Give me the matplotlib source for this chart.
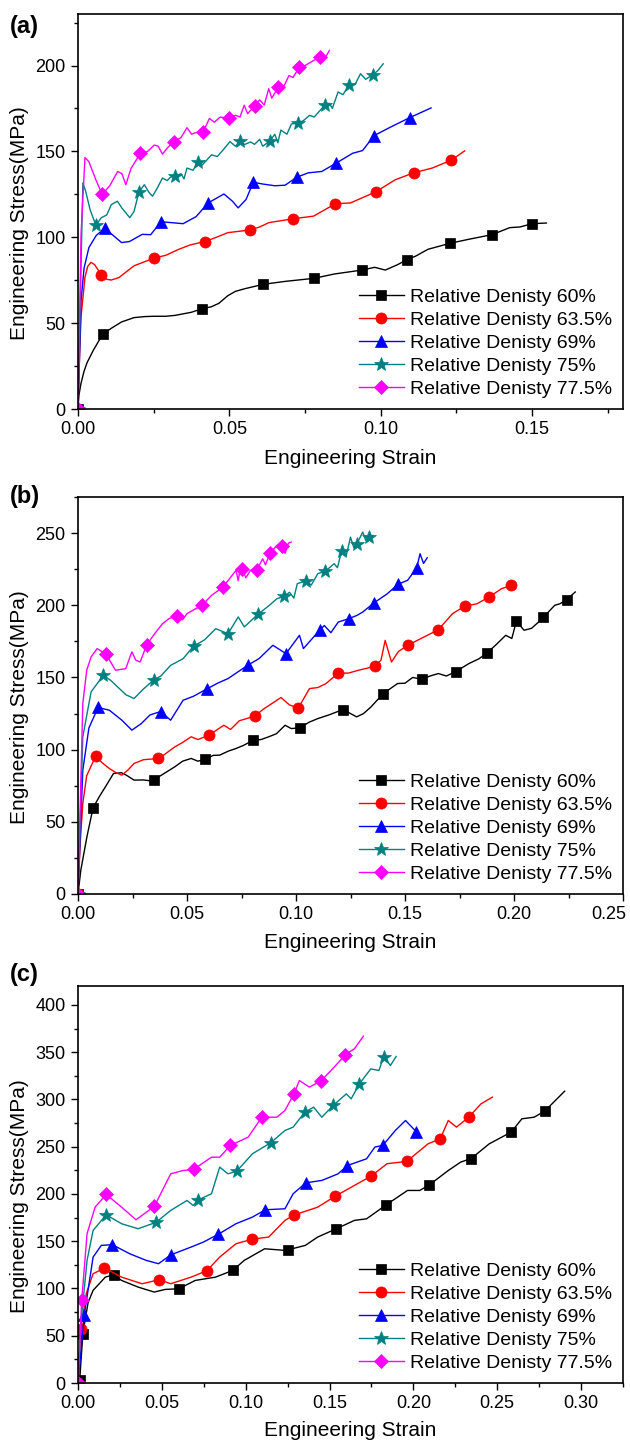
import matplotlib
matplotlib.use("Agg")
import matplotlib.pyplot as plt
from matplotlib.lines import Line2D
from matplotlib.ticker import MultipleLocator, FormatStrFormatter
from matplotlib.transforms import ScaledTranslation

plt.rcParams['font.family'] = ['Liberation Sans', 'DejaVu Sans']

labels = ["Relative Denisty 60%", "Relative Denisty 63.5%", "Relative Denisty 69%",
          "Relative Denisty 75%", "Relative Denisty 77.5%"]
colors = ["#000000", "#FF0000", "#0000FF", "#008080", "#FF00FF"]
markers = ["s", "o", "^", "*", "D"]
msizes = [7, 8, 8, 10, 7]

# ---------------- panel (a) ----------------
a60_line = [(0, 0), (0.0003, 8), (0.001, 15), (0.002, 22), (0.003, 27), (0.005, 34), (0.0081, 43.4), (0.011, 47),
            (0.0144, 50.7), (0.0185, 53.2), (0.022, 53.8), (0.025, 54), (0.029, 54), (0.032, 54.5), (0.0374, 56.3),
            (0.041, 58.4), (0.044, 59.5), (0.0465, 61.5), (0.0495, 66), (0.052, 68.5), (0.055, 70), (0.0612, 72.6),
            (0.0684, 74.3), (0.078, 76.1), (0.0846, 78.6), (0.0938, 80.9), (0.098, 82.5), (0.1015, 80.9),
            (0.1055, 84), (0.1086, 86.9), (0.1115, 89), (0.1156, 93), (0.1229, 96.5), (0.129, 98.8),
            (0.1367, 101.5), (0.1426, 105.6), (0.146, 106), (0.15, 107.9), (0.1547, 108.3)]
a60_marks = [(0, 0), (0.0081, 43.4), (0.041, 58.4), (0.0612, 72.6), (0.078, 76.1), (0.0938, 80.9), (0.1086, 86.9),
             (0.1229, 96.5), (0.1367, 101.5), (0.15, 107.9)]
a635_line = [(0, 0), (0.0005, 30), (0.001, 53.6), (0.0023, 76.7), (0.0032, 83), (0.0043, 85.4), (0.0055, 84),
             (0.0077, 78.2), (0.0095, 75.5), (0.011, 75.1), (0.0135, 76.5), (0.0185, 83.4), (0.0252, 87.9),
             (0.029, 89.5), (0.0333, 93), (0.037, 95.5), (0.0418, 97.5), (0.045, 99.5), (0.0495, 102.7),
             (0.0567, 104.2), (0.06, 106), (0.063, 108.5), (0.0711, 110.8), (0.0778, 112.3), (0.085, 119.5),
             (0.09, 120), (0.0983, 126.4), (0.1048, 133.5), (0.111, 137.6), (0.117, 140.3), (0.1233, 144.9),
             (0.1277, 150.3)]
a635_marks = [(0, 0), (0.0077, 78.2), (0.0252, 87.9), (0.0418, 97.5), (0.0567, 104.2), (0.0711, 110.8), (0.085, 119.5),
              (0.0983, 126.4), (0.111, 137.6), (0.1233, 144.9)]
a69_line = [(0, 0), (0.0005, 30), (0.001, 63), (0.002, 82), (0.0036, 94), (0.006, 101), (0.0088, 105.2), (0.011, 102),
            (0.0144, 96.9), (0.017, 97.5), (0.0212, 101.7), (0.024, 101.5), (0.0274, 109), (0.031, 108.5),
            (0.0347, 107.9), (0.039, 112), (0.043, 120), (0.0482, 125.2), (0.051, 121), (0.0529, 117.1),
            (0.0555, 122), (0.0579, 132), (0.061, 131), (0.065, 130), (0.0684, 130.3), (0.0722, 134.9),
            (0.076, 137.5), (0.0805, 138.3), (0.0853, 143.2), (0.0907, 148.9), (0.094, 150.5), (0.0978, 159.2),
            (0.1035, 164.4), (0.1095, 169.6), (0.1166, 175.3)]
a69_marks = [(0, 0), (0.0088, 105.2), (0.0274, 109), (0.043, 120), (0.0579, 132), (0.0722, 134.9), (0.0853, 143.2),
             (0.0978, 159.2), (0.1095, 169.6)]
a75_line = [(0, 0), (0.0005, 40), (0.001, 82.5), (0.0016, 131.6), (0.0025, 127), (0.004, 116), (0.0059, 107),
            (0.0077, 111.4), (0.0095, 113), (0.011, 119), (0.013, 121), (0.0145, 117), (0.0171, 111.4),
            (0.0185, 115), (0.0201, 126.2), (0.0219, 130.6), (0.0235, 126), (0.0246, 123.9), (0.026, 128),
            (0.0279, 134.5), (0.0295, 133), (0.0305, 135), (0.0322, 135.5), (0.034, 137), (0.035, 134),
            (0.036, 140.3), (0.038, 139), (0.0397, 144.1), (0.041, 142), (0.0441, 148), (0.046, 147), (0.048, 151),
            (0.0502, 155.7), (0.052, 153), (0.0535, 156.1), (0.055, 154), (0.057, 155.5), (0.0583, 154.1),
            (0.06, 157), (0.061, 153), (0.0634, 156.1), (0.065, 160), (0.066, 155), (0.067, 162.4), (0.069, 160),
            (0.0705, 166), (0.0728, 166.5), (0.0745, 168), (0.0765, 171), (0.078, 170), (0.0815, 176.9),
            (0.083, 178), (0.084, 175), (0.0859, 184.6), (0.0875, 183), (0.0896, 188.8), (0.0915, 189),
            (0.0933, 195.2), (0.095, 192), (0.0974, 194.6), (0.099, 197), (0.1008, 201)]
a75_marks = [(0, 0), (0.0059, 107), (0.0201, 126.2), (0.0322, 135.5), (0.0397, 144.1), (0.0535, 156.1),
             (0.0634, 156.1), (0.0728, 166.5), (0.0815, 176.9), (0.0896, 188.8), (0.0974, 194.6)]
a775_line = [(0, 0), (0.0005, 50), (0.001, 101.7), (0.0023, 146.4), (0.0036, 144), (0.006, 133), (0.008, 125),
             (0.0105, 130), (0.0131, 138.3), (0.0145, 137), (0.0158, 130.6), (0.0175, 140), (0.0206, 148.9),
             (0.023, 150), (0.0252, 153.7), (0.0265, 153), (0.0279, 148.4), (0.0295, 152), (0.0316, 155.7),
             (0.034, 158), (0.036, 163.8), (0.0375, 160), (0.039, 161), (0.0414, 161.5), (0.0434, 169.2),
             (0.045, 167), (0.047, 170), (0.0499, 169.2), (0.052, 171), (0.0535, 170), (0.0549, 176.9),
             (0.056, 172), (0.0583, 176.3), (0.06, 180), (0.0615, 177), (0.063, 186.5), (0.064, 181),
             (0.0662, 187.5), (0.068, 188), (0.0697, 194.2), (0.071, 193), (0.0731, 199), (0.075, 200),
             (0.0778, 202.9), (0.08, 205.2), (0.0815, 204), (0.083, 208.7)]
a775_marks = [(0, 0), (0.008, 125), (0.0206, 148.9), (0.0316, 155.7), (0.0414, 161.5), (0.0499, 169.2),
              (0.0583, 176.3), (0.0662, 187.5), (0.0731, 199), (0.08, 205.2)]

# ---------------- panel (b) ----------------
b60_line = [(0, 0), (0.0013, 16.6), (0.0041, 39.7), (0.0069, 59.7), (0.01, 68), (0.0126, 74.3), (0.0163, 83.5),
            (0.02, 84), (0.0225, 82), (0.0257, 78.9), (0.03, 79), (0.0332, 78.4), (0.035, 79.3), (0.039, 83),
            (0.0444, 88.1), (0.048, 92), (0.0519, 93.9), (0.055, 92), (0.0581, 93.2), (0.062, 96), (0.065, 96.2),
            (0.069, 99), (0.0725, 100.8), (0.076, 103), (0.0804, 106.5), (0.084, 107), (0.0875, 108.9),
            (0.091, 111), (0.095, 116.9), (0.0978, 114.6), (0.1019, 115.1), (0.106, 119), (0.11, 121.5),
            (0.115, 124), (0.1216, 127.8), (0.125, 125), (0.1278, 122.7), (0.131, 125), (0.1344, 129.6),
            (0.14, 138.8), (0.1466, 145.8), (0.15, 146), (0.1535, 150), (0.1578, 148.8), (0.1615, 151),
            (0.1653, 152.7), (0.169, 151), (0.1733, 154.1), (0.1793, 159.6), (0.184, 163), (0.1878, 167.2),
            (0.192, 173), (0.1962, 179.2), (0.199, 177), (0.2011, 189.1), (0.2046, 182.7), (0.208, 184),
            (0.211, 188), (0.2135, 191.7), (0.2187, 200), (0.221, 201), (0.2241, 203.9), (0.2281, 209.2)]
b60_marks = [(0, 0), (0.0069, 59.7), (0.035, 79.3), (0.0581, 93.2), (0.0804, 106.5), (0.1019, 115.1), (0.1216, 127.8),
             (0.14, 138.8), (0.1578, 148.8), (0.1733, 154.1), (0.1878, 167.2), (0.2011, 189.1), (0.2135, 191.7),
             (0.2241, 203.9)]
b635_line = [(0, 0), (0.001, 35), (0.0022, 62.7), (0.004, 82), (0.0081, 95.5), (0.011, 91), (0.0144, 86.9),
             (0.0175, 84), (0.0201, 82.3), (0.023, 86), (0.0257, 90.4), (0.03, 93), (0.0369, 93.9), (0.04, 97),
             (0.0444, 101.9), (0.048, 105), (0.0519, 108.9), (0.055, 107), (0.06, 110), (0.0669, 116.9),
             (0.07, 114), (0.074, 120), (0.0811, 123.2), (0.085, 128), (0.0931, 136.1), (0.097, 131),
             (0.101, 128.7), (0.1062, 142.3), (0.11, 143), (0.1138, 145.8), (0.1194, 153.1), (0.124, 153),
             (0.1287, 155), (0.1362, 157.7), (0.139, 162), (0.1409, 175.7), (0.1438, 160.7), (0.147, 168),
             (0.1512, 172.3), (0.1587, 178), (0.1653, 183.1), (0.1718, 194.2), (0.1775, 199.5), (0.183, 201),
             (0.1885, 205.7), (0.1943, 211.5), (0.1987, 213.8), (0.2005, 214)]
b635_marks = [(0, 0), (0.0081, 95.5), (0.0369, 93.9), (0.06, 110), (0.0811, 123.2), (0.101, 128.7), (0.1194, 153.1),
              (0.1362, 157.7), (0.1512, 172.3), (0.1653, 183.1), (0.1775, 199.5), (0.1885, 205.7), (0.1987, 213.8)]
b69_line = [(0, 0), (0.001, 40), (0.0022, 85.8), (0.005, 115), (0.0092, 129.2), (0.0144, 127.3), (0.0201, 120.4),
            (0.0247, 113.5), (0.029, 118), (0.033, 124), (0.0379, 126.4), (0.0425, 120.4), (0.0482, 134.2),
            (0.053, 137), (0.0594, 142.3), (0.064, 146), (0.0688, 149.2), (0.0778, 158.4), (0.083, 163),
            (0.0894, 172.3), (0.0954, 166.5), (0.1016, 179.2), (0.1034, 170), (0.1108, 182.7), (0.113, 186),
            (0.116, 181), (0.1194, 188.4), (0.1242, 190.7), (0.128, 193), (0.1306, 195.3), (0.1359, 201.8),
            (0.1419, 208), (0.1467, 214.5), (0.1512, 217.3), (0.1554, 226), (0.1569, 235.7), (0.1585, 229),
            (0.1602, 232.9)]
b69_marks = [(0, 0), (0.0092, 129.2), (0.0379, 126.4), (0.0594, 142.3), (0.0778, 158.4), (0.0954, 166.5),
             (0.1108, 182.7), (0.1242, 190.7), (0.1359, 201.8), (0.1467, 214.5), (0.1554, 226)]
b75_line = [(0, 0), (0.001, 50), (0.0022, 108.9), (0.006, 140), (0.0116, 151.5), (0.015, 148), (0.0182, 143.4),
            (0.022, 138), (0.0257, 135.4), (0.03, 142), (0.0349, 148.5), (0.038, 151), (0.0425, 158.4),
            (0.0482, 163), (0.053, 171.6), (0.058, 176), (0.0632, 183.8), (0.0688, 180.3), (0.0735, 191.9),
            (0.0763, 185), (0.0825, 193.7), (0.087, 199), (0.0913, 204.6), (0.0946, 206.2), (0.097, 209),
            (0.099, 205), (0.1006, 215), (0.1044, 216.8), (0.107, 214), (0.11, 221.9), (0.1134, 223.5),
            (0.1175, 228.8), (0.119, 226), (0.1209, 237.3), (0.123, 234), (0.125, 247.2), (0.1265, 240),
            (0.1278, 242.2), (0.1306, 250.7), (0.132, 245), (0.1336, 247.2), (0.1353, 248.4)]
b75_marks = [(0, 0), (0.0116, 151.5), (0.0349, 148.5), (0.053, 171.6), (0.0688, 180.3), (0.0825, 193.7),
             (0.0946, 206.2), (0.1044, 216.8), (0.1134, 223.5), (0.1209, 237.3), (0.1278, 242.2), (0.1336, 247.2)]
b775_line = [(0, 0), (0.001, 60), (0.0022, 131.9), (0.004, 155), (0.006, 164.2), (0.0088, 170), (0.0129, 166),
             (0.0172, 155), (0.0219, 156.1), (0.0247, 167.7), (0.0265, 162), (0.0285, 160.7), (0.0315, 172.5),
             (0.035, 180), (0.0388, 187.3), (0.042, 191), (0.0454, 192.3), (0.048, 190), (0.05, 194.2),
             (0.057, 200.2), (0.0613, 206.9), (0.0665, 212.6), (0.0725, 224.2), (0.0735, 217), (0.0745, 226),
             (0.0753, 225.3), (0.077, 219), (0.0791, 224.2), (0.0821, 224.6), (0.0847, 232.2), (0.086, 228),
             (0.0881, 236.2), (0.0913, 241.5), (0.0937, 240.8), (0.095, 236), (0.0965, 243), (0.0978, 243.8)]
b775_marks = [(0, 0), (0.0129, 166), (0.0315, 172.5), (0.0454, 192.3), (0.057, 200.2), (0.0665, 212.6),
              (0.0753, 225.3), (0.0821, 224.6), (0.0881, 236.2), (0.0937, 240.8)]

# ---------------- panel (c) ----------------
c60_line = [(0, 0), (0.001, 2.8), (0.0029, 52.2), (0.006, 85), (0.009, 98), (0.0163, 112), (0.0212, 114.5),
            (0.026, 108.5), (0.0358, 101.5), (0.0455, 96.2), (0.052, 99), (0.0601, 99.7), (0.0699, 108.5),
            (0.082, 112), (0.0923, 119.1), (0.0991, 129.7), (0.1113, 142), (0.1234, 140.3), (0.1254, 141),
            (0.1356, 145.6), (0.1429, 154.4), (0.1541, 163.2), (0.1648, 172), (0.1721, 173.7), (0.1838, 188.5),
            (0.1965, 203.7), (0.2038, 203.7), (0.2096, 209.7), (0.2208, 224.8), (0.2282, 233.7), (0.2345, 237.5),
            (0.2452, 253), (0.2583, 265.4), (0.2647, 279.5), (0.272, 281.2), (0.2783, 287.6), (0.2902, 308.7)]
c60_marks = [(0.001, 2.8), (0.0029, 52.2), (0.0212, 114.5), (0.0601, 99.7), (0.0923, 119.1), (0.1254, 141),
             (0.1541, 163.2), (0.1838, 188.5), (0.2096, 209.7), (0.2345, 237.5), (0.2583, 265.4), (0.2783, 287.6)]
c635_line = [(0, 0), (0.0017, 57.4), (0.005, 95), (0.009, 115.6), (0.0158, 121.6), (0.026, 112), (0.0382, 105),
             (0.0485, 109.3), (0.0553, 105), (0.0674, 112), (0.0769, 118.8), (0.0845, 133.2), (0.0942, 147.3),
             (0.104, 152.2), (0.1137, 154.4), (0.1234, 172), (0.1286, 177.6), (0.1429, 186), (0.1532, 197.4),
             (0.1648, 209), (0.1748, 218.9), (0.1843, 232), (0.196, 234.4), (0.2087, 253), (0.216, 258.3),
             (0.2208, 277.7), (0.2257, 270.7), (0.233, 281.2), (0.2403, 295.3), (0.2471, 302.4)]
c635_marks = [(0, 0), (0.0017, 57.4), (0.0158, 121.6), (0.0485, 109.3), (0.0769, 118.8), (0.104, 152.2),
              (0.1286, 177.6), (0.1532, 197.4), (0.1748, 218.9), (0.196, 234.4), (0.216, 258.3), (0.233, 281.2)]
c69_line = [(0, 0), (0.0037, 71.5), (0.009, 133.2), (0.0139, 145.6), (0.0205, 146.3), (0.0309, 136.7),
            (0.0407, 129.7), (0.048, 126.2), (0.0555, 135.7), (0.0674, 143.8), (0.0748, 149.1), (0.0835, 157.2),
            (0.0942, 168.5), (0.104, 175.5), (0.1118, 183.3), (0.1234, 184.3), (0.1283, 200.2), (0.1359, 211.8),
            (0.1454, 214.3), (0.1551, 221.3), (0.1607, 230.1), (0.1721, 237.2), (0.177, 249.5), (0.1819, 251.6),
            (0.1892, 267.1), (0.1953, 277.7), (0.2018, 265.7)]
c69_marks = [(0, 0), (0.0037, 71.5), (0.0205, 146.3), (0.0555, 135.7), (0.0835, 157.2), (0.1118, 183.3),
             (0.1359, 211.8), (0.1607, 230.1), (0.1819, 251.6), (0.2018, 265.7)]
c75_line = [(0, 0), (0.0017, 62.7), (0.0054, 129.7), (0.009, 161.4), (0.0168, 178), (0.026, 168.5),
            (0.0358, 163.2), (0.0465, 169.9), (0.0553, 182.6), (0.065, 193.1), (0.0687, 187.8), (0.0718, 193.8),
            (0.0796, 200.2), (0.0845, 228.4), (0.0894, 221.3), (0.0947, 224.1), (0.104, 242.5), (0.1149, 254.1),
            (0.1234, 267.1), (0.1283, 270.7), (0.1351, 286.2), (0.1405, 291.8), (0.1454, 281.2), (0.1522, 293.6),
            (0.16, 305.9), (0.1629, 300.6), (0.1678, 316.5), (0.1746, 332.3), (0.1794, 330.6), (0.1824, 345.4),
            (0.1863, 335.9), (0.1897, 345.4)]
c75_marks = [(0, 0), (0.0168, 178), (0.0465, 169.9), (0.0718, 193.8), (0.0947, 224.1), (0.1149, 254.1),
             (0.1351, 286.2), (0.1522, 293.6), (0.1678, 316.5), (0.1824, 345.4)]
c775_line = [(0, 0), (0.0022, 87.4), (0.0054, 157.9), (0.0102, 186), (0.0168, 199.5), (0.026, 186),
             (0.0346, 172.7), (0.0455, 186.8), (0.0553, 221.3), (0.0626, 224.8), (0.0689, 225.9), (0.0796, 238.9),
             (0.0845, 238.9), (0.0908, 251.3), (0.1015, 260.1), (0.1096, 281.2), (0.1186, 281.2), (0.1234, 288.3),
             (0.1288, 305.9), (0.132, 320), (0.138, 313), (0.1449, 319.6), (0.1527, 334), (0.1595, 347.5),
             (0.1648, 353.5), (0.1702, 366.9)]
c775_marks = [(0, 0), (0.0022, 87.4), (0.0168, 199.5), (0.0455, 186.8), (0.0689, 225.9), (0.0908, 251.3),
              (0.1096, 281.2), (0.1288, 305.9), (0.1449, 319.6), (0.1595, 347.5)]

panels = [
    dict(tag="(a)", lines=[a60_line, a635_line, a69_line, a75_line, a775_line],
         marks=[a60_marks, a635_marks, a69_marks, a75_marks, a775_marks],
         xlim=(0, 0.18), ylim=(0, 230), ymaj=50),
    dict(tag="(b)", lines=[b60_line, b635_line, b69_line, b75_line, b775_line],
         marks=[b60_marks, b635_marks, b69_marks, b75_marks, b775_marks],
         xlim=(0, 0.25), ylim=(0, 275), ymaj=50),
    dict(tag="(c)", lines=[c60_line, c635_line, c69_line, c75_line, c775_line],
         marks=[c60_marks, c635_marks, c69_marks, c75_marks, c775_marks],
         xlim=(0, 0.325), ylim=(0, 420), ymaj=50),
]

W, H = 630, 1441
fig = plt.figure(figsize=(W / 100, H / 100), dpi=100)
# axes frames in pixel coordinates: (left, top, right, bottom)
frames = [(78, 14, 623, 409), (78, 497, 623, 894), (78, 986, 623, 1383)]
tag_y = [27, 496, 974]
xlabel_y = [459, 943, 1430]

for p, fr, ty, xly in zip(panels, frames, tag_y, xlabel_y):
    l, t, r, b = fr
    ax = fig.add_axes([l / W, 1 - b / H, (r - l) / W, (b - t) / H])
    for line, mk, c, m, ms in zip(p["lines"], p["marks"], colors, markers, msizes):
        xs = [q[0] for q in line]
        ys = [q[1] for q in line]
        ax.plot(xs, ys, color=c, lw=1.0)
        mx = [q[0] for q in mk]
        my = [q[1] for q in mk]
        ax.plot(mx, my, ls="none", marker=m, color=c, markersize=ms, markeredgewidth=0.5)
    ax.set_xlim(*p["xlim"])
    ax.set_ylim(*p["ylim"])
    ax.xaxis.set_major_locator(MultipleLocator(0.05))
    ax.xaxis.set_minor_locator(MultipleLocator(0.025))
    ax.yaxis.set_major_locator(MultipleLocator(p["ymaj"]))
    ax.yaxis.set_minor_locator(MultipleLocator(p["ymaj"] / 2))
    ax.xaxis.set_major_formatter(FormatStrFormatter("%.2f"))
    ax.yaxis.set_major_formatter(FormatStrFormatter("%d"))
    ax.tick_params(which="both", direction="out", top=False, right=False, width=1.0)
    ax.tick_params(which="major", length=5, labelsize=13, pad=4)
    ax.tick_params(which="minor", length=3)
    for s in ax.spines.values():
        s.set_linewidth(1.2)
    ax.set_xlabel("Engineering Strain", fontsize=15)
    ax.set_ylabel("Engineering Stress(MPa)", fontsize=15)
    ax.xaxis.set_label_coords((350 - l) / (r - l), -(xly - b) / (b - t))
    ax.yaxis.set_label_coords(-(l - 20) / (r - l), 0.47)
    ax.xaxis.label.set_va("center")
    ax.yaxis.label.set_va("center")
    handles = [Line2D([], [], color=c, marker=m, markersize=ms, lw=1.0, markeredgewidth=0.5)
               for c, m, ms in zip(colors, markers, msizes)]
    ax.legend(handles, labels, loc="lower right", bbox_to_anchor=(0.997, 0.004), frameon=False,
              fontsize=14, handlelength=2.3, handletextpad=0.3, labelspacing=0.27, borderpad=0.0)
    fig.text(10 / W, 1 - ty / H, p["tag"], fontsize=17, fontweight="bold", va="center", ha="left")
    # keep the edge tick label inside the figure (as in the reference)
    fig.canvas.draw()
    for tl in ax.get_xticklabels():
        if tl.get_text() == "0.25" and p["tag"] == "(b)":
            tl.set_transform(tl.get_transform() + ScaledTranslation(-14 / 100, 0, fig.dpi_scale_trans))

fig.savefig("out.png", dpi=100)
